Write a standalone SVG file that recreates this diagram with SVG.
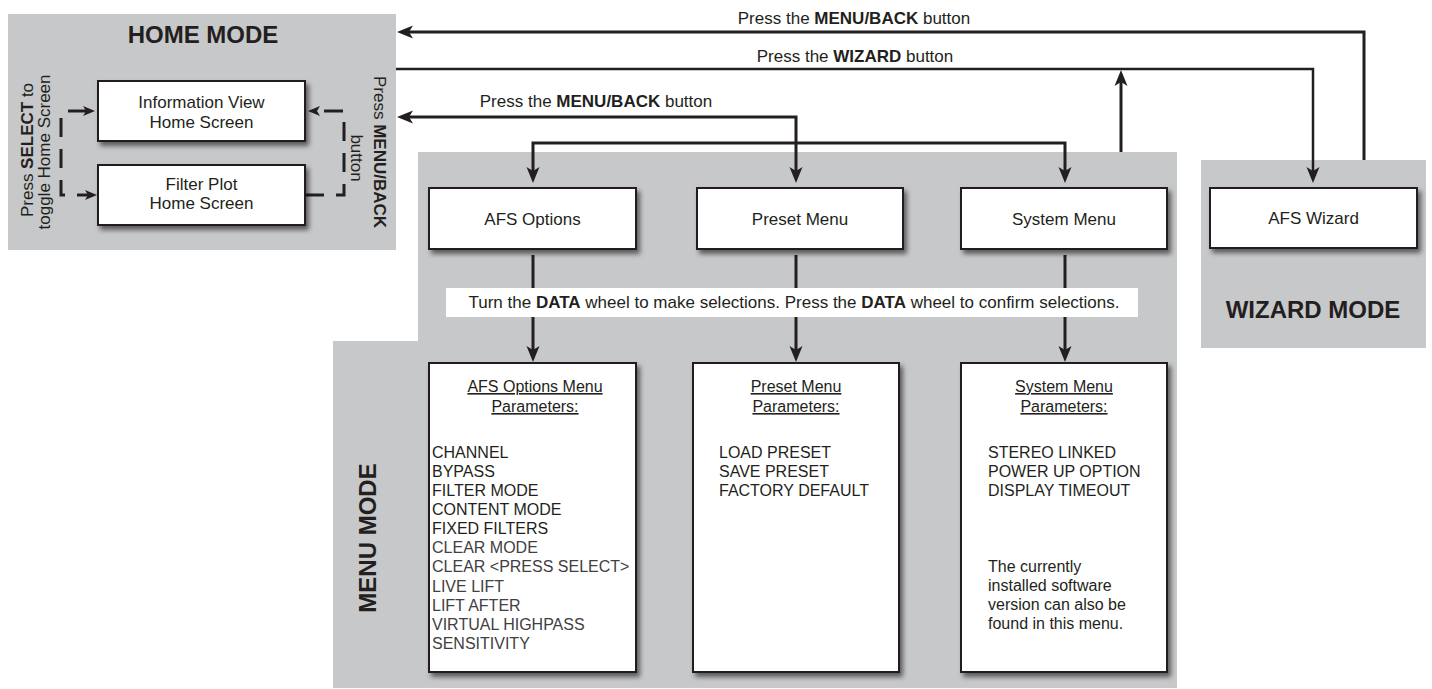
<svg xmlns="http://www.w3.org/2000/svg" width="1432" height="689" viewBox="0 0 1432 689">
<defs>
<style>
text { font-family: "Liberation Sans", Arial, sans-serif; fill: #231f20; }
.panel { fill: #c7c8ca; }
.box { fill: #ffffff; stroke: #231f20; stroke-width: 2; filter: url(#sh); }
.title { font-size: 24px; font-weight: bold; text-anchor: middle; }
.lbl { font-size: 17px; text-anchor: middle; }
.conn { fill: none; stroke: #231f20; stroke-width: 3; }
.thin { stroke-width: 2.5; }
.dash { fill: none; stroke: #231f20; stroke-width: 3; stroke-dasharray: 19 12; }
.head { font-size: 16px; text-anchor: middle; text-decoration: underline; }
.item { font-size: 16px; }
.dim { fill: #414042; }
.b { font-weight: bold; }
</style>
<filter id="sh" x="-10%" y="-10%" width="130%" height="140%">
<feDropShadow dx="3" dy="4" stdDeviation="2.5" flood-color="#000" flood-opacity="0.55"/>
</filter>
<marker id="ah" viewBox="-10 -8 20 16" refX="0" refY="0" markerWidth="20" markerHeight="16" markerUnits="userSpaceOnUse" orient="auto-start-reverse">
<path d="M9,0 L-7,-6.5 L-3,0 L-7,6.5 Z" fill="#231f20"/>
</marker>
<marker id="ahs" viewBox="-8 -6 16 12" refX="0" refY="0" markerWidth="16" markerHeight="12" markerUnits="userSpaceOnUse" orient="auto">
<path d="M6,0 L-6,-5 L-3,0 L-6,5 Z" fill="#231f20"/>
</marker>
</defs>

<g id="home-mode">
<rect class="panel" x="8" y="14" width="388" height="236"/>
<text class="title" x="203" y="43">HOME MODE</text>
<text class="lbl" transform="translate(33,150) rotate(-90)">Press <tspan class="b">SELECT</tspan> to</text>
<text class="lbl" transform="translate(50,152) rotate(-90)">toggle Home Screen</text>
<text class="lbl" transform="translate(374,152) rotate(90)">Press <tspan class="b">MENU/BACK</tspan></text>
<text class="lbl" transform="translate(351,158) rotate(90)">button</text>
</g>

<g id="menu-mode">
<path class="panel" d="M418,152 H1177 V688 H333 V341 H418 Z"/>
<text class="title" transform="translate(376,538) rotate(-90)">MENU MODE</text>
</g>

<g id="wizard-mode">
<rect class="panel" x="1201" y="160" width="225" height="188"/>
<text class="title" x="1313" y="318">WIZARD MODE</text>
</g>

<g id="connectors">
<path class="conn" d="M1364,160 V32 H406" marker-end="url(#ah)"/>
<path class="conn thin" d="M396,69 H1313 V174" marker-end="url(#ah)"/>
<path class="conn" d="M1121,152 V79" marker-end="url(#ah)"/>
<path class="conn" d="M406,117 H796 V174" marker-start="url(#ah)" marker-end="url(#ah)"/>
<path class="conn" d="M533,174 V143 H1065 V174" marker-start="url(#ah)" marker-end="url(#ah)"/>
<path class="conn" d="M533,255 V353" marker-end="url(#ah)"/>
<path class="conn" d="M796,255 V353" marker-end="url(#ah)"/>
<path class="conn" d="M1065,255 V353" marker-end="url(#ah)"/>
<path class="conn" d="M68,111 H89" marker-end="url(#ahs)"/>
<path class="dash" d="M61,118 V195 H91" marker-end="url(#ahs)"/>
<path class="dash" d="M305,195 H344 V111 H314" marker-end="url(#ahs)"/>
<text class="lbl" x="854" y="24">Press the <tspan class="b">MENU/BACK</tspan> button</text>
<text class="lbl" x="855" y="62">Press the <tspan class="b">WIZARD</tspan> button</text>
<text class="lbl" x="596" y="107">Press the <tspan class="b">MENU/BACK</tspan> button</text>
</g>

<g id="data-wheel-note">
<rect x="446" y="288" width="692" height="29" fill="#ffffff"/>
<text class="lbl" x="794" y="308">Turn the <tspan class="b">DATA</tspan> wheel to make selections. Press the <tspan class="b">DATA</tspan> wheel to confirm selections.</text>
</g>

<g id="information-view">
<rect class="box" x="98" y="81" width="207" height="60"/>
<text class="lbl" x="201.5" y="108">Information View</text>
<text class="lbl" x="201.5" y="128">Home Screen</text>
</g>

<g id="filter-plot">
<rect class="box" x="98" y="165" width="207" height="60"/>
<text class="lbl" x="201.5" y="190">Filter Plot</text>
<text class="lbl" x="201.5" y="209">Home Screen</text>
</g>

<g id="afs-options">
<rect class="box" x="429" y="188" width="207" height="61"/>
<text class="lbl" x="532.5" y="225">AFS Options</text>
</g>

<g id="preset-menu">
<rect class="box" x="697" y="188" width="206" height="61"/>
<text class="lbl" x="800" y="225">Preset Menu</text>
</g>

<g id="system-menu">
<rect class="box" x="961" y="188" width="206" height="61"/>
<text class="lbl" x="1064" y="225">System Menu</text>
</g>

<g id="afs-wizard">
<rect class="box" x="1210" y="188" width="207" height="60"/>
<text class="lbl" x="1313.5" y="224">AFS Wizard</text>
</g>

<g id="afs-options-params">
<rect class="box" x="429" y="363" width="207" height="309"/>
<text class="head" x="535" y="392">AFS Options Menu</text>
<text class="head" x="535" y="412">Parameters:</text>
<text class="item" x="432" y="458">CHANNEL</text>
<text class="item" x="432" y="477">BYPASS</text>
<text class="item" x="432" y="496">FILTER MODE</text>
<text class="item" x="432" y="515">CONTENT MODE</text>
<text class="item" x="432" y="534">FIXED FILTERS</text>
<text class="item dim" x="432" y="553">CLEAR MODE</text>
<text class="item dim" x="432" y="572">CLEAR &lt;PRESS SELECT&gt;</text>
<text class="item dim" x="432" y="592">LIVE LIFT</text>
<text class="item dim" x="432" y="611">LIFT AFTER</text>
<text class="item dim" x="432" y="630">VIRTUAL HIGHPASS</text>
<text class="item dim" x="432" y="649">SENSITIVITY</text>
</g>

<g id="preset-params">
<rect class="box" x="693" y="363" width="206" height="309"/>
<text class="head" x="796" y="392">Preset Menu</text>
<text class="head" x="796" y="412">Parameters:</text>
<text class="item" x="719" y="458">LOAD PRESET</text>
<text class="item" x="719" y="477">SAVE PRESET</text>
<text class="item" x="719" y="496">FACTORY DEFAULT</text>
</g>

<g id="system-params">
<rect class="box" x="961" y="363" width="206" height="309"/>
<text class="head" x="1064" y="392">System Menu</text>
<text class="head" x="1064" y="412">Parameters:</text>
<text class="item" x="988" y="458">STEREO LINKED</text>
<text class="item" x="988" y="477">POWER UP OPTION</text>
<text class="item" x="988" y="496">DISPLAY TIMEOUT</text>
<text class="item" x="988" y="572">The currently</text>
<text class="item" x="988" y="591">installed software</text>
<text class="item" x="988" y="610">version can also be</text>
<text class="item" x="988" y="629">found in this menu.</text>
</g>
</svg>
